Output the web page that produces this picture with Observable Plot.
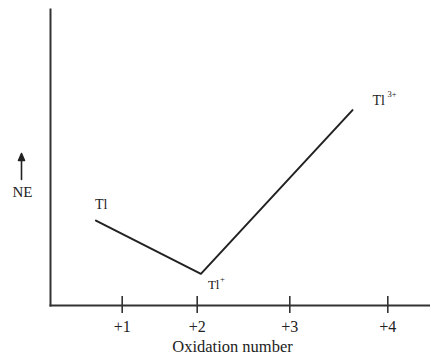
<!DOCTYPE html>
<html>
<head>
<meta charset="utf-8">
<script src="https://cdn.jsdelivr.net/npm/d3@7"></script>
<script src="https://cdn.jsdelivr.net/npm/@observablehq/plot@0.6"></script>
<style>
  html, body { margin: 0; padding: 0; background: #fff; }
</style>
</head>
<body>
<div id="chart"></div>
<script>
// Data
const oxidation = [0.65, 2.04, 3.64];      // x positions of Tl, Tl+, Tl3+
const ne = [28.7, 10.7, 66.0];             // relative NE (arbitrary units)
const species = ["Tl", "Tl", "Tl"];
const charges = ["", "+", "3+"];
const tickValues = [1, 2, 3, 4];
const tickLabels = ["+1", "+2", "+3", "+4"];
const xLabel = "Oxidation number";
const yLabel = "NE";

const points = oxidation.map((x, i) => ({x, y: ne[i], name: species[i], charge: charges[i]}));
const font = "'Liberation Serif', 'Times New Roman', serif";
const ink = "#222";

const labelMark = (i, dx, dy, fontSize = 14) => Plot.text([points[i]], {
  x: "x", y: "y", text: "name", textAnchor: "start", lineAnchor: "bottom",
  dx, dy, fontSize, fill: ink
});
const supMark = (i, dx, dy) => Plot.text([points[i]], {
  x: "x", y: "y", text: "charge", textAnchor: "start", lineAnchor: "bottom",
  dx, dy, fontSize: 8.5, fill: ink
});

const arrowShape = {
  draw(context, l) {
    context.moveTo(0, 0);
    context.lineTo(0, -l + 6);
    context.moveTo(-3, -l + 7);
    context.lineTo(0, -l);
    context.lineTo(3, -l + 7);
    context.closePath();
  }
};

const chart = Plot.plot({
  width: 430,
  height: 355,
  marginLeft: 50,
  marginRight: 0,
  marginTop: 9,
  marginBottom: 50,
  style: {fontFamily: font, fontSize: "16px", color: ink, background: "#fff"},
  x: {type: "linear", domain: [1, 2, 3, 4], range: [121.7, 196.7, 289.3, 387.3], axis: null},
  y: {domain: [0, 100], axis: null},
  marks: [
    Plot.frame({anchor: "left", stroke: "#333", strokeWidth: 2}),
    Plot.frame({anchor: "bottom", stroke: "#333", strokeWidth: 2}),
    Plot.tickX(tickValues, {x: d => d, stroke: "#333", strokeWidth: 1.6, insetTop: 287, insetBottom: -8}),
    Plot.axisX(tickValues, {
      tickSize: 0, tickPadding: 15, tickFormat: (d) => tickLabels[tickValues.indexOf(d)],
      fontSize: 16, fill: ink, label: null
    }),
    Plot.text([xLabel], {frameAnchor: "bottom", text: d => d, textAnchor: "middle", dx: -8, dy: 46, lineAnchor: "bottom", fontSize: 16.5, fill: ink}),
    Plot.text([yLabel], {frameAnchor: "left", text: d => d, textAnchor: "middle", dx: -28, dy: 39, lineAnchor: "bottom", fontSize: 15, fill: ink}),
    Plot.vector([yLabel], {frameAnchor: "left", dx: -29, dy: 22, anchor: "start", length: 26, rotate: 0, shape: arrowShape, stroke: ink, fill: ink, strokeWidth: 1.6}),
    Plot.line(points, {x: "x", y: "y", stroke: ink, strokeWidth: 2}),
    labelMark(0, -1, -12),
    labelMark(1, 7, 15, 13),
    supMark(1, 19, 8),
    labelMark(2, 20, -5),
    supMark(2, 35, -13.5)
  ]
});
document.getElementById("chart").appendChild(chart);
</script>
</body>
</html>
